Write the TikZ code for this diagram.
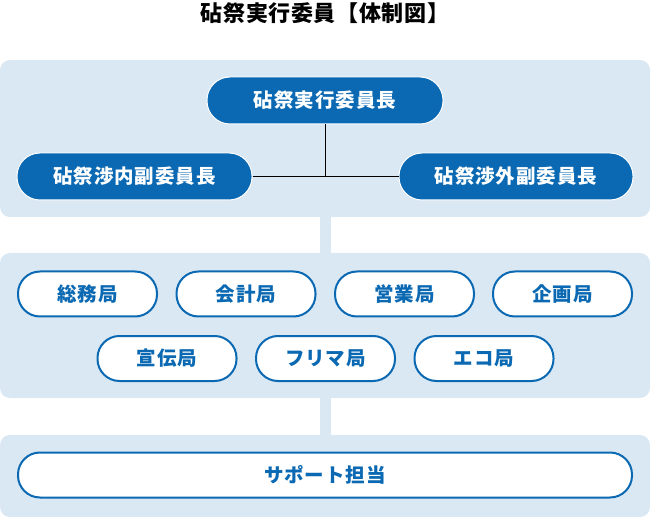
\documentclass[tikz,border=0pt]{standalone}
\usepackage{fontspec}
\newfontfamily\titlefont[LetterSpace=3]{Noto Sans CJK JP}
\newfontfamily\nodefont[LetterSpace=5]{Noto Sans CJK JP}
\definecolor{panelblue}{HTML}{DAE8F3}
\definecolor{mainblue}{HTML}{0A69B2}
\tikzset{
  panel/.style={fill=panelblue, draw=none, rounded corners=10pt, inner sep=0pt, minimum width=650pt},
  band/.style={draw=panelblue, line width=11pt},
  leadbox/.style={fill=mainblue, draw=white, line width=1pt, rounded corners=23pt, text=white,
    minimum height=47pt, inner sep=0pt, font=\nodefont\bfseries\fontsize{19.5pt}{21pt}\selectfont},
  bureau/.style={fill=white, draw=mainblue, line width=2pt, rounded corners=22pt, text=mainblue,
    minimum height=45pt, minimum width=139pt, inner sep=0pt, font=\nodefont\bfseries\fontsize{19.5pt}{21pt}\selectfont},
  link/.style={draw=black, line width=0.8pt}
}
\begin{document}
\begin{tikzpicture}[x=1pt,y=-1pt]
\useasboundingbox (0,0) rectangle (650,518);
\node[font=\titlefont\bfseries\fontsize{22pt}{24pt}\selectfont] (title) at (325,13) {砧祭実行委員【体制図】};
% panels
\node[panel, minimum height=157pt] (p1) at (325,138.5) {};
\node[panel, minimum height=145pt] (p2) at (325,325.5) {};
\node[panel, minimum height=82pt] (p3) at (325,476) {};
\draw[band] ([xshift=0.5pt]p1.south) -- ([xshift=0.5pt]p2.north);
\draw[band] ([xshift=0.5pt]p2.south) -- ([xshift=0.5pt]p3.north);
% leaders
\node[leadbox, minimum width=236pt] (chair) at (325,100.5) {砧祭実行委員長};
\node[leadbox, minimum width=235pt] (vin) at (134.5,176.5) {砧祭渉内副委員長};
\node[leadbox, minimum width=234pt] (vout) at (516,176.5) {砧祭渉外副委員長};
\coordinate (jn) at (chair.south |- vin.east);
\draw[link] (chair.south) -- (jn);
\draw[link] (vin.east) -- (vout.west);
% bureaus
\node[bureau] (soumu) at (87.5,294) {総務局};
\node[bureau] (kaikei) at (246,294) {会計局};
\node[bureau] (eigyou) at (404.5,294) {営業局};
\node[bureau] (kikaku) at (562.5,294) {企画局};
\node[bureau] (senden) at (167,358.5) {宣伝局};
\node[bureau] (furima) at (325.5,358.5) {フリマ局};
\node[bureau] (eco) at (484,358.5) {エコ局};
% support
\node[bureau, minimum width=614pt] (support) at (325,475) {サポート担当};
\end{tikzpicture}
\end{document}
